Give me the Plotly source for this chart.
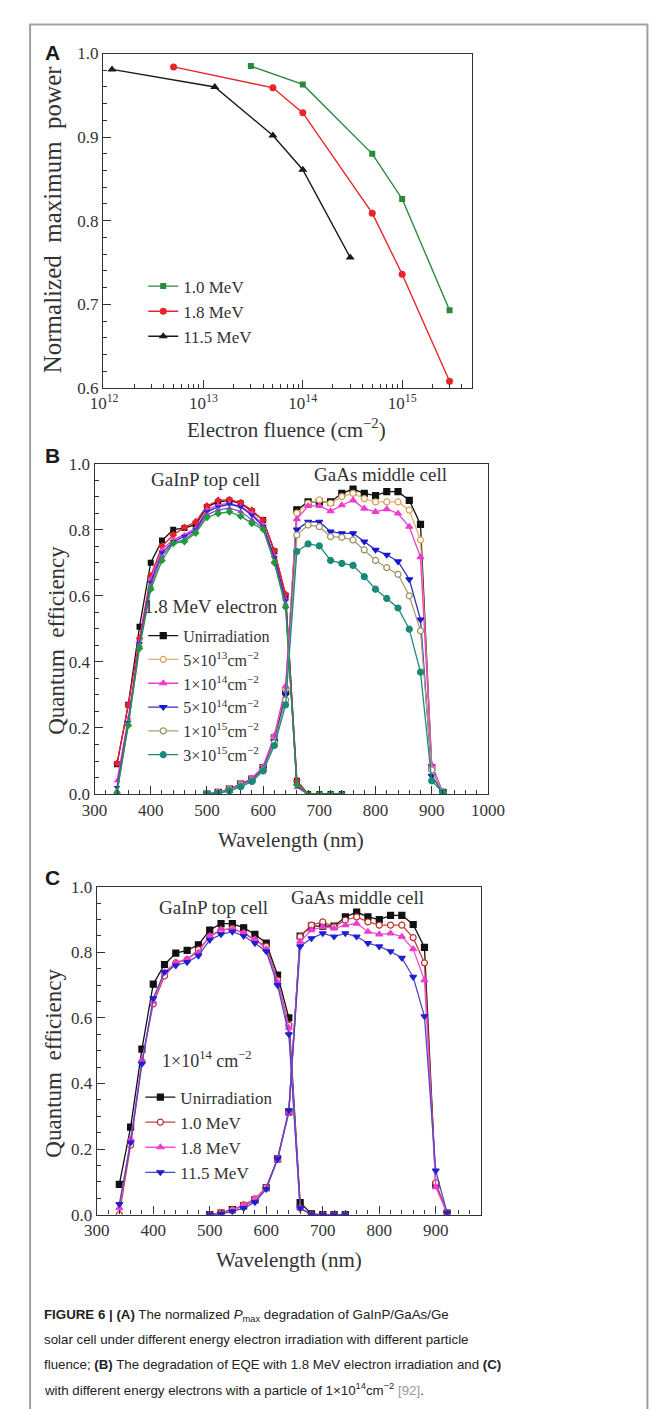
import plotly.graph_objects as go

W, H = 665, 1409


def px(x):
    return x / W


def py(y):
    return 1 - y / H


SERIF = "Liberation Serif"
SANS = "Liberation Sans"
TXT = "#333333"

# ---------------- Panel A data ----------------
a_fluence_10 = [3e13, 1e14, 5e14, 1e15, 3e15]
a_pmax_10 = [0.985, 0.963, 0.880, 0.826, 0.693]
a_fluence_18 = [5e12, 5e13, 1e14, 5e14, 1e15, 3e15]
a_pmax_18 = [0.984, 0.959, 0.929, 0.809, 0.736, 0.608]
a_fluence_115 = [1.2e12, 1.3e13, 5e13, 1e14, 3e14]
a_pmax_115 = [0.981, 0.960, 0.902, 0.861, 0.756]
a_names = ["1.0 MeV", "1.8 MeV", "11.5 MeV"]

# ---------------- Panel B data (1.8 MeV electrons) ----------------
top_wl = [340, 360, 380, 400, 420, 440, 460, 480, 500, 520, 540,
          560, 580, 600, 620, 640, 660, 680, 700, 720, 740]
mid_wl = [500, 520, 540, 560, 580, 600, 620, 640, 660, 680, 700,
          720, 740, 760, 780, 800, 820, 840, 860, 880, 900, 920]

b_names = ["Unirradiation", "5×10<sup>13</sup>cm<sup>−2</sup>", "1×10<sup>14</sup>cm<sup>−2</sup>",
           "5×10<sup>14</sup>cm<sup>−2</sup>", "1×10<sup>15</sup>cm<sup>−2</sup>", "3×10<sup>15</sup>cm<sup>−2</sup>"]

b_top_unirr = [0.090, 0.270, 0.506, 0.700, 0.767, 0.800, 0.805, 0.815, 0.869, 0.884, 0.888,
               0.880, 0.856, 0.829, 0.735, 0.600, 0.040, 0.0, 0.0, 0.0, 0.0]
b_top_5e13 = [0.093, 0.270, 0.471, 0.660, 0.750, 0.784, 0.807, 0.824, 0.872, 0.889, 0.891,
              0.882, 0.859, 0.829, 0.736, 0.605, 0.040, 0.0, 0.0, 0.0, 0.0]
b_top_1e14 = [0.040, 0.230, 0.460, 0.650, 0.740, 0.770, 0.785, 0.805, 0.860, 0.875, 0.880,
              0.870, 0.850, 0.815, 0.720, 0.590, 0.020, 0.0, 0.0, 0.0, 0.0]
b_top_5e14 = [0.020, 0.217, 0.455, 0.640, 0.730, 0.764, 0.780, 0.800, 0.854, 0.869, 0.877,
              0.869, 0.844, 0.810, 0.715, 0.585, 0.025, 0.0, 0.0, 0.0, 0.0]
b_top_1e15 = [0.010, 0.210, 0.450, 0.630, 0.720, 0.760, 0.770, 0.795, 0.845, 0.860, 0.865,
              0.855, 0.830, 0.805, 0.705, 0.575, 0.030, 0.0, 0.0, 0.0, 0.0]
b_top_3e15 = [0.003, 0.208, 0.441, 0.620, 0.707, 0.759, 0.764, 0.790, 0.837, 0.849, 0.854,
              0.841, 0.819, 0.801, 0.700, 0.565, 0.028, 0.0, 0.0, 0.0, 0.0]

b_mid_unirr = [0.0, 0.005, 0.015, 0.030, 0.045, 0.080, 0.170, 0.310, 0.860, 0.884, 0.884,
               0.884, 0.910, 0.923, 0.910, 0.903, 0.915, 0.915, 0.889, 0.816, 0.080, 0.005]
b_mid_5e13 = [0.0, 0.005, 0.015, 0.030, 0.046, 0.080, 0.172, 0.318, 0.850, 0.880, 0.890,
              0.880, 0.900, 0.910, 0.894, 0.884, 0.884, 0.884, 0.859, 0.769, 0.080, 0.005]
b_mid_1e14 = [0.0, 0.005, 0.015, 0.030, 0.048, 0.083, 0.177, 0.326, 0.832, 0.872, 0.872,
              0.856, 0.874, 0.889, 0.864, 0.854, 0.862, 0.849, 0.809, 0.717, 0.088, 0.005]
b_mid_5e14 = [0.0, 0.004, 0.013, 0.027, 0.043, 0.077, 0.160, 0.300, 0.800, 0.824, 0.824,
              0.794, 0.789, 0.789, 0.764, 0.739, 0.724, 0.704, 0.650, 0.528, 0.055, 0.005]
b_mid_1e15 = [0.0, 0.003, 0.012, 0.025, 0.040, 0.073, 0.155, 0.285, 0.784, 0.814, 0.809,
              0.779, 0.777, 0.769, 0.739, 0.707, 0.685, 0.665, 0.600, 0.494, 0.073, 0.005]
b_mid_3e15 = [0.0, 0.002, 0.010, 0.022, 0.038, 0.070, 0.147, 0.270, 0.734, 0.757, 0.751,
              0.707, 0.698, 0.692, 0.658, 0.620, 0.592, 0.563, 0.499, 0.369, 0.040, 0.005]

# ---------------- Panel C data (1e14 cm^-2) ----------------
c_names = ["Unirradiation", "1.0 MeV", "1.8 MeV", "11.5 MeV"]
c_top_unirr = [0.092, 0.267, 0.505, 0.703, 0.763, 0.798, 0.806, 0.823, 0.868, 0.888, 0.888,
               0.875, 0.855, 0.828, 0.731, 0.600, 0.037, 0.002, 0.0, 0.0, 0.0]
c_top_10 = [0.000, 0.212, 0.467, 0.643, 0.728, 0.768, 0.778, 0.808, 0.848, 0.868, 0.873,
            0.858, 0.838, 0.818, 0.715, 0.578, 0.020, 0.0, 0.0, 0.0, 0.0]
c_top_18 = [0.020, 0.230, 0.470, 0.650, 0.740, 0.770, 0.780, 0.800, 0.850, 0.870, 0.870,
            0.860, 0.840, 0.810, 0.710, 0.570, 0.020, 0.0, 0.0, 0.0, 0.0]
c_top_115 = [0.032, 0.220, 0.460, 0.660, 0.740, 0.760, 0.770, 0.790, 0.838, 0.855, 0.863,
             0.850, 0.828, 0.803, 0.700, 0.550, 0.020, 0.0, 0.0, 0.0, 0.0]

c_mid_unirr = [0.0, 0.005, 0.015, 0.027, 0.045, 0.082, 0.170, 0.313, 0.850, 0.880, 0.880,
               0.880, 0.908, 0.923, 0.908, 0.900, 0.913, 0.913, 0.885, 0.815, 0.090, 0.005]
c_mid_10 = [0.0, 0.006, 0.015, 0.030, 0.048, 0.083, 0.170, 0.315, 0.848, 0.883, 0.893,
            0.878, 0.898, 0.908, 0.893, 0.883, 0.883, 0.883, 0.845, 0.768, 0.097, 0.005]
c_mid_18 = [0.0, 0.004, 0.013, 0.028, 0.045, 0.080, 0.168, 0.312, 0.833, 0.868, 0.878,
            0.873, 0.883, 0.888, 0.863, 0.855, 0.858, 0.848, 0.810, 0.715, 0.084, 0.004]
c_mid_115 = [0.0, 0.002, 0.010, 0.020, 0.038, 0.078, 0.170, 0.318, 0.818, 0.843, 0.858,
             0.848, 0.858, 0.848, 0.828, 0.818, 0.803, 0.783, 0.725, 0.605, 0.134, 0.005]

fig = go.Figure()

# ---------------- Panel A traces ----------------
a_styles = [
    ("#2a8a3c", "square", 6),
    ("#e8262a", "circle", 7),
    ("#1a1a1a", "triangle-up", 8),
]
for (xs, ys), name, (col, sym, sz) in zip(
        [(a_fluence_10, a_pmax_10), (a_fluence_18, a_pmax_18), (a_fluence_115, a_pmax_115)],
        a_names, a_styles):
    fig.add_trace(go.Scatter(
        x=xs, y=ys, name=name, mode="lines+markers", xaxis="x", yaxis="y",
        line=dict(color=col, width=1.4), marker=dict(color=col, symbol=sym, size=sz),
        legend="legend"))

# ---------------- Panel B traces ----------------
b_top = [b_top_unirr, b_top_5e13, b_top_1e14, b_top_5e14, b_top_1e15, b_top_3e15]
b_mid = [b_mid_unirr, b_mid_5e13, b_mid_1e14, b_mid_5e14, b_mid_1e15, b_mid_3e15]
b_mid_style = [
    ("#111111", "#111111", "square", "#111111"),
    ("#e2b272", "white", "circle", "#d9a050"),
    ("#f03ad0", "#f03ad0", "triangle-up", "#f03ad0"),
    ("#3030b8", "#1818d0", "triangle-down", "#1818d0"),
    ("#a8a070", "white", "circle", "#9a9060"),
    ("#1f8a7c", "#1a8a78", "circle", "#1a8a78"),
]
b_top_style = [
    ("#111111", "square"),
    ("#e8202a", "diamond"),
    ("#f03ad0", "triangle-up"),
    ("#2626c8", "triangle-down"),
    ("#8a4cc0", "triangle-up"),
    ("#1f9a3a", "diamond"),
]
for ys, (lc, sym) in zip(b_top, b_top_style):
    fig.add_trace(go.Scatter(
        x=top_wl, y=ys, mode="lines+markers", xaxis="x2", yaxis="y2", showlegend=False,
        line=dict(color=lc, width=1.3), marker=dict(color=lc, symbol=sym, size=6),
        hoverinfo="skip"))
for ys, name, (lc, fc, sym, mc) in zip(b_mid, b_names, b_mid_style):
    fig.add_trace(go.Scatter(
        x=mid_wl, y=ys, name=name, mode="lines+markers", xaxis="x2", yaxis="y2",
        line=dict(color=lc, width=1.3),
        marker=dict(color=fc, symbol=sym, size=6, line=dict(color=mc, width=1.2)),
        legend="legend2"))

# ---------------- Panel C traces ----------------
c_top = [c_top_unirr, c_top_10, c_top_18, c_top_115]
c_mid = [c_mid_unirr, c_mid_10, c_mid_18, c_mid_115]
c_style = [
    ("#111111", "#111111", "square", "#111111"),
    ("#c84040", "white", "circle", "#c03030"),
    ("#f050d8", "#f03ad0", "triangle-up", "#f03ad0"),
    ("#5048c8", "#2020d0", "triangle-down", "#2020d0"),
]
for t, m, name, (lc, fc, sym, mc) in zip(c_top, c_mid, c_names, c_style):
    xs = top_wl + [None] + mid_wl
    ys = t + [None] + m
    fig.add_trace(go.Scatter(
        x=xs, y=ys, name=name, mode="lines+markers", xaxis="x3", yaxis="y3",
        connectgaps=False, line=dict(color=lc, width=1.3),
        marker=dict(color=fc, symbol=sym, size=6, line=dict(color=mc, width=1.2)),
        legend="legend3"))


def axis(**kw):
    d = dict(showline=True, linecolor="#333333", linewidth=1.3, mirror=True,
             ticks="inside", ticklen=8, tickwidth=1.2, tickcolor="#333333",
             showgrid=False, zeroline=False,
             tickfont=dict(family=SERIF, size=17, color=TXT))
    d.update(kw)
    return d


a_minor = [m * 10 ** e for e in (12, 13, 14, 15) for m in range(2, 10) if m * 10 ** e < 5e15]

leg_common = dict(xanchor="left", yanchor="top", bgcolor="rgba(0,0,0,0)",
                  itemwidth=30, tracegroupgap=0)

fig.update_layout(
    width=W, height=H, margin=dict(l=0, r=0, t=0, b=0),
    paper_bgcolor="white", plot_bgcolor="white",
    xaxis=axis(domain=[px(86), px(472)], anchor="y", type="log", range=[11.99, 15.70],
               tickvals=[1e12, 1e13, 1e14, 1e15], ticktext=["10<sup>12</sup>", "10<sup>13</sup>",
                                                            "10<sup>14</sup>", "10<sup>15</sup>"],
               minor=dict(ticks="inside", ticklen=4, tickvals=a_minor, tickcolor="#333333")),
    yaxis=axis(domain=[py(376), py(37)], anchor="x", range=[0.6, 1.0], dtick=0.1,
               tickformat=".1f",
               minor=dict(ticks="inside", ticklen=4, dtick=0.02, tickcolor="#333333")),
    xaxis2=axis(domain=[px(77), px(489)], anchor="y2", range=[300, 1000], dtick=100,
                minor=dict(ticks="inside", ticklen=4, dtick=20, tickcolor="#333333")),
    yaxis2=axis(domain=[py(787.7), py(452.7)], anchor="x2", range=[0, 1.0], dtick=0.2,
                tickformat=".1f",
                minor=dict(ticks="inside", ticklen=4, dtick=0.05, tickcolor="#333333")),
    xaxis3=axis(domain=[px(79.3), px(481.7)], anchor="y3", range=[300, 980], dtick=100,
                minor=dict(ticks="inside", ticklen=4, dtick=20, tickcolor="#333333")),
    yaxis3=axis(domain=[py(1214), py(881.7)], anchor="x3", range=[0, 1.0], dtick=0.2,
                tickformat=".1f",
                minor=dict(ticks="inside", ticklen=4, dtick=0.05, tickcolor="#333333")),
    legend=dict(x=px(128), y=py(255), font=dict(family=SERIF, size=17, color=TXT), **leg_common),
    legend2=dict(x=px(128), y=py(610), font=dict(family=SERIF, size=16, color=TXT), **leg_common),
    legend3=dict(x=px(125), y=py(1077), font=dict(family=SERIF, size=17, color=TXT), **leg_common),
    showlegend=True,
)

ann = []


def text(x, y, s, size, family=SERIF, angle=0, xanchor="center", color=TXT):
    ann.append(dict(x=px(x), y=py(y), xref="paper", yref="paper", text=s, showarrow=False,
                    textangle=angle, xanchor=xanchor, yanchor="middle",
                    font=dict(family=family, size=size, color=color)))


# panel letters
text(32.5, 36, "<b>A</b>", 21, SANS, color="#1a1a1a")
text(32.5, 444, "<b>B</b>", 21, SANS, color="#1a1a1a")
text(33, 872, "<b>C</b>", 21, SANS, color="#1a1a1a")

# axis titles
text(32.5, 205, "Normalized  maximum  power", 25, angle=-90)
text(278, 417, "Electron fluence (cm<sup>−2</sup>)", 21)
text(37, 632, "Quantum  efficiency", 23, angle=-90)
text(283, 834, "Wavelength (nm)", 21)
text(34.5, 1060, "Quantum  efficiency", 23, angle=-90)
text(281, 1260, "Wavelength (nm)", 21)

# in-plot labels
text(193, 469, "GaInP top cell", 19)
text(377, 464, "GaAs middle cell", 19)
text(202, 903, "GaInP top cell", 19)
text(352, 893, "GaAs middle cell", 19)
text(199, 598, "1.8 MeV electron", 19)
text(195, 1057, "1×10<sup>14</sup> cm<sup>−2</sup>", 18)

# caption
CAP = "Liberation Sans Narrow, Liberation Sans"
cap_lines = [
    "<b>FIGURE 6 | (A)</b> The normalized <i>P</i><sub>max</sub> degradation of GaInP/GaAs/Ge",
    "solar cell under different energy electron irradiation with different particle",
    "fluence; <b>(B)</b> The degradation of EQE with 1.8 MeV electron irradiation and <b>(C)</b>",
    "with different energy electrons with a particle of 1×10<sup>14</sup>cm<sup>−2</sup> "
    "<span style='color:#9a9a9a'>[92]</span>.",
]
for i, line in enumerate(cap_lines):
    text(22, 1316 + 25 * i, line, 13.3, CAP, xanchor="left", color="#222222")

fig.update_layout(annotations=ann)

# outer frame
fig.add_shape(type="rect", xref="paper", yref="paper", x0=px(9.5), x1=px(656), y0=-0.01, y1=py(7.5),
              line=dict(color="#a0a0a0", width=2), fillcolor="rgba(0,0,0,0)", layer="below")

fig.write_html("out.html")
